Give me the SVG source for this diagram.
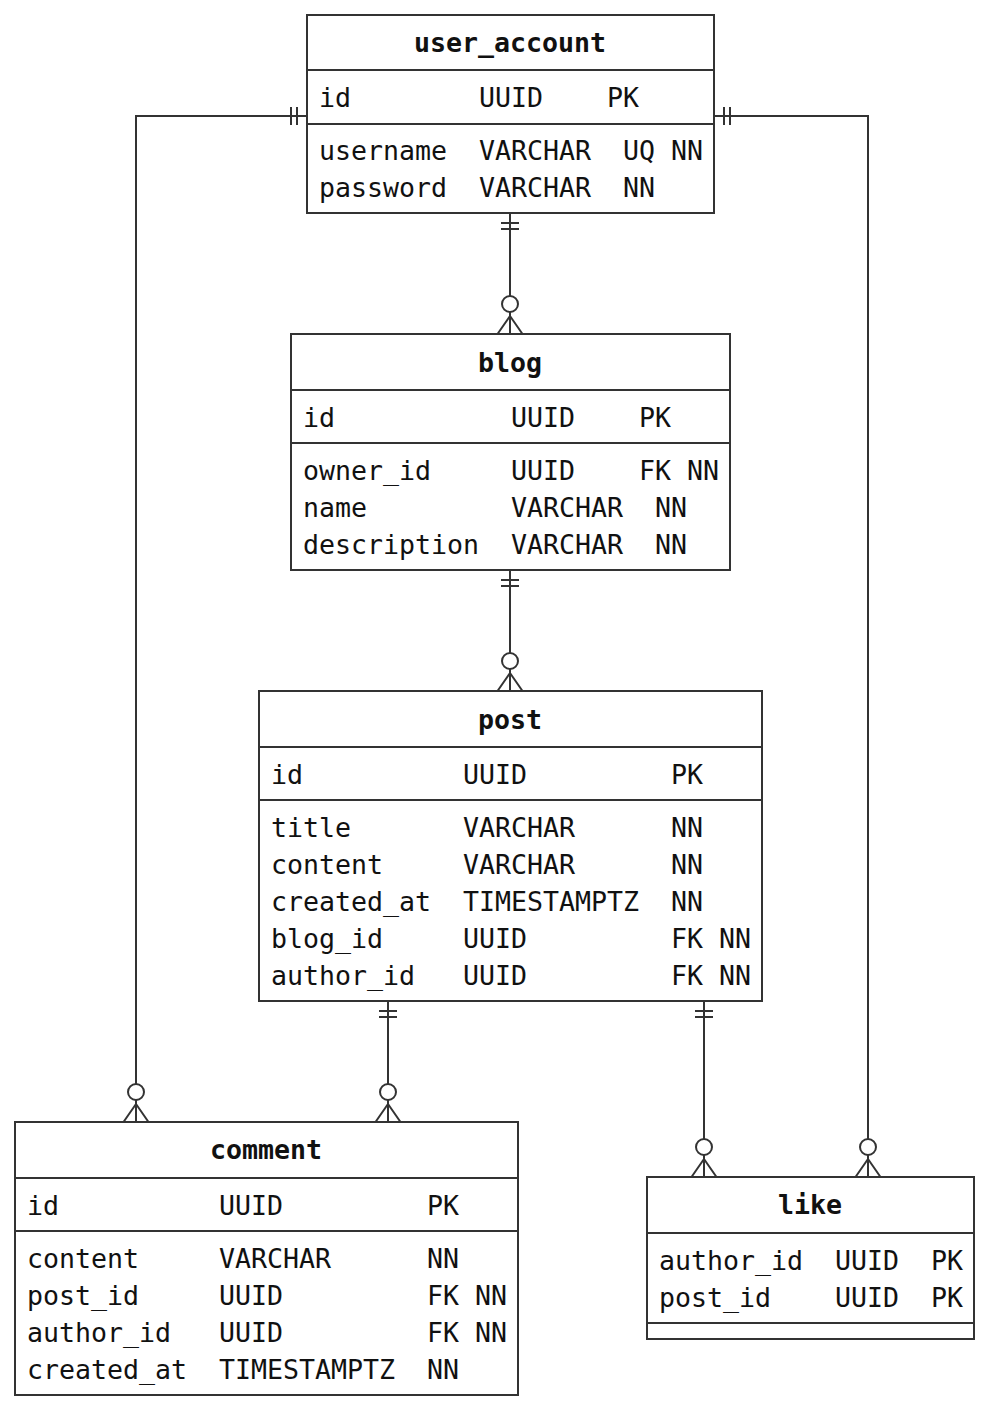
<svg xmlns="http://www.w3.org/2000/svg" width="986" height="1407" viewBox="0 0 986 1407">
<style>
.box{fill:#fff;stroke:#333;stroke-width:2}
.sep{stroke:#333;stroke-width:2}
.t{font-family:"DejaVu Sans Mono","Liberation Mono",monospace;font-size:26.6px;fill:#111}
.h{font-weight:bold;text-anchor:middle}
.c{fill:none;stroke:#333;stroke-width:2}
</style>
<defs>
<marker id="many" markerUnits="userSpaceOnUse" orient="auto" refX="0" refY="0" markerWidth="1" markerHeight="1" overflow="visible">
<path d="M-18,0 L0,-12.5 M-18,0 L0,12.5 M-22,0 L0,0" fill="none" stroke="#333" stroke-width="2"/>
<circle cx="-30" cy="0" r="8" fill="#fff" stroke="#333" stroke-width="2"/>
</marker>
<marker id="one" markerUnits="userSpaceOnUse" orient="auto-start-reverse" refX="0" refY="0" markerWidth="1" markerHeight="1" overflow="visible">
<path d="M-10,-9 L-10,9 M-16,-9 L-16,9" fill="none" stroke="#333" stroke-width="2"/>
</marker>
</defs>
<rect width="986" height="1407" fill="#fff"/>

<g id="connectors">
<path class="c" d="M510,213 L510,334" marker-start="url(#one)" marker-end="url(#many)"/>
<path class="c" d="M510,570 L510,691" marker-start="url(#one)" marker-end="url(#many)"/>
<path class="c" d="M307,116 L136,116 L136,1122" marker-start="url(#one)" marker-end="url(#many)"/>
<path class="c" d="M714,116 L868,116 L868,1177" marker-start="url(#one)" marker-end="url(#many)"/>
<path class="c" d="M388,1001 L388,1122" marker-start="url(#one)" marker-end="url(#many)"/>
<path class="c" d="M704,1001 L704,1177" marker-start="url(#one)" marker-end="url(#many)"/>
</g>

<g id="user_account">
<rect class="box" x="307" y="15" width="407" height="198"/>
<line class="sep" x1="307" y1="70" x2="714" y2="70"/>
<line class="sep" x1="307" y1="124" x2="714" y2="124"/>
<text class="t h" x="510" y="52">user_account</text>
<text class="t" x="319" y="107">id</text><text class="t" x="479" y="107">UUID</text><text class="t" x="607" y="107">PK</text>
<text class="t" x="319" y="160">username</text><text class="t" x="479" y="160">VARCHAR</text><text class="t" x="623" y="160">UQ NN</text>
<text class="t" x="319" y="197">password</text><text class="t" x="479" y="197">VARCHAR</text><text class="t" x="623" y="197">NN</text>
</g>

<g id="blog">
<rect class="box" x="291" y="334" width="439" height="236"/>
<line class="sep" x1="291" y1="390" x2="730" y2="390"/>
<line class="sep" x1="291" y1="443" x2="730" y2="443"/>
<text class="t h" x="510" y="372">blog</text>
<text class="t" x="303" y="427">id</text><text class="t" x="511" y="427">UUID</text><text class="t" x="639" y="427">PK</text>
<text class="t" x="303" y="480">owner_id</text><text class="t" x="511" y="480">UUID</text><text class="t" x="639" y="480">FK NN</text>
<text class="t" x="303" y="517">name</text><text class="t" x="511" y="517">VARCHAR</text><text class="t" x="655" y="517">NN</text>
<text class="t" x="303" y="554">description</text><text class="t" x="511" y="554">VARCHAR</text><text class="t" x="655" y="554">NN</text>
</g>

<g id="post">
<rect class="box" x="259" y="691" width="503" height="310"/>
<line class="sep" x1="259" y1="747" x2="762" y2="747"/>
<line class="sep" x1="259" y1="800" x2="762" y2="800"/>
<text class="t h" x="510" y="729">post</text>
<text class="t" x="271" y="784">id</text><text class="t" x="463" y="784">UUID</text><text class="t" x="671" y="784">PK</text>
<text class="t" x="271" y="837">title</text><text class="t" x="463" y="837">VARCHAR</text><text class="t" x="671" y="837">NN</text>
<text class="t" x="271" y="874">content</text><text class="t" x="463" y="874">VARCHAR</text><text class="t" x="671" y="874">NN</text>
<text class="t" x="271" y="911">created_at</text><text class="t" x="463" y="911">TIMESTAMPTZ</text><text class="t" x="671" y="911">NN</text>
<text class="t" x="271" y="948">blog_id</text><text class="t" x="463" y="948">UUID</text><text class="t" x="671" y="948">FK NN</text>
<text class="t" x="271" y="985">author_id</text><text class="t" x="463" y="985">UUID</text><text class="t" x="671" y="985">FK NN</text>
</g>

<g id="comment">
<rect class="box" x="15" y="1122" width="503" height="273"/>
<line class="sep" x1="15" y1="1178" x2="518" y2="1178"/>
<line class="sep" x1="15" y1="1231" x2="518" y2="1231"/>
<text class="t h" x="266" y="1159">comment</text>
<text class="t" x="27" y="1215">id</text><text class="t" x="219" y="1215">UUID</text><text class="t" x="427" y="1215">PK</text>
<text class="t" x="27" y="1268">content</text><text class="t" x="219" y="1268">VARCHAR</text><text class="t" x="427" y="1268">NN</text>
<text class="t" x="27" y="1305">post_id</text><text class="t" x="219" y="1305">UUID</text><text class="t" x="427" y="1305">FK NN</text>
<text class="t" x="27" y="1342">author_id</text><text class="t" x="219" y="1342">UUID</text><text class="t" x="427" y="1342">FK NN</text>
<text class="t" x="27" y="1379">created_at</text><text class="t" x="219" y="1379">TIMESTAMPTZ</text><text class="t" x="427" y="1379">NN</text>
</g>

<g id="like">
<rect class="box" x="647" y="1177" width="327" height="162"/>
<line class="sep" x1="647" y1="1233" x2="974" y2="1233"/>
<line class="sep" x1="647" y1="1323" x2="974" y2="1323"/>
<text class="t h" x="810" y="1214">like</text>
<text class="t" x="659" y="1270">author_id</text><text class="t" x="835" y="1270">UUID</text><text class="t" x="931" y="1270">PK</text>
<text class="t" x="659" y="1307">post_id</text><text class="t" x="835" y="1307">UUID</text><text class="t" x="931" y="1307">PK</text>
</g>
</svg>
